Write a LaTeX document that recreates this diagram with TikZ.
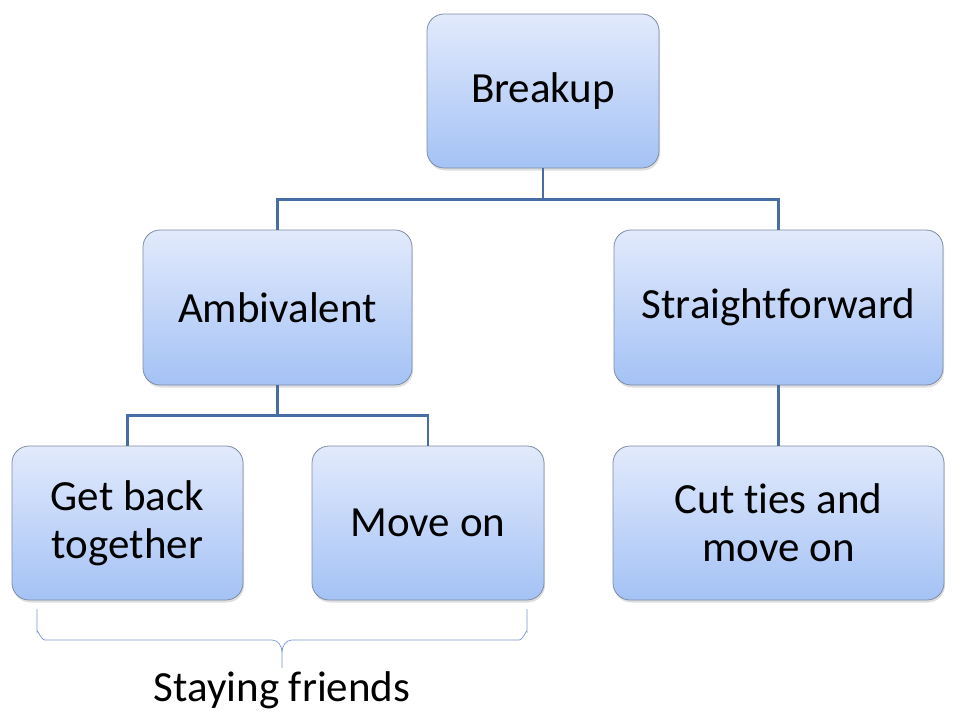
\documentclass[tikz,border=0pt]{standalone}
\usepackage{fontspec}
\setmainfont{Carlito}[Ligatures=NoCommon]
\usetikzlibrary{shadows}
\definecolor{boxtop}{RGB}{226,234,252}
\definecolor{boxbot}{RGB}{164,194,245}
\definecolor{boxline}{RGB}{125,140,165}
\definecolor{conn}{RGB}{70,110,165}
\definecolor{brace}{RGB}{120,150,205}
\begin{document}
\begin{tikzpicture}[x=1pt,y=-1pt,
  box/.style={draw=boxline, line width=0.8pt, rounded corners=17pt,
    top color=boxtop, bottom color=boxbot, align=center,
    font=\fontsize{43}{48}\selectfont, inner sep=0pt,
    drop shadow={opacity=0.25, shadow xshift=1pt, shadow yshift=-2.5pt}},
  conn/.style={draw=conn, line width=2.8pt}]
\useasboundingbox (0,0) rectangle (960,720);
\node[box, minimum width=232pt, minimum height=154pt] (b) at (543,91) {Breakup};
\node[box, minimum width=269pt, minimum height=155pt] (a) at (277.5,307.5) {Ambivalent};
\node[box, minimum width=329pt, minimum height=155pt] (s) at (778.5,307.5) {Straightforward};
\node[box, minimum width=231pt, minimum height=154pt] (g) at (127.5,523) {Get back\\together};
\node[box, minimum width=232pt, minimum height=154pt] (m) at (428,523) {Move on};
\node[box, minimum width=331pt, minimum height=154pt] (c) at (778.5,523) {Cut ties and\\move on};
\draw[conn] (b.south) -- ++(0,31) -| (a.north);
\draw[conn] (b.south) ++(0,31) -| (s.north);
\draw[conn] (a.south) -- ++(0,30) -| (g.north);
\draw[conn] (a.south) ++(0,30) -| (m.north);
\draw[conn] (s.south) -- (c.north);
\draw[brace, line width=0.7pt] (37,609) -- (37,632) to[out=90,in=180] (45,640)
  -- (272,640) to[out=0,in=90] (282,652) -- (282,668);
\draw[brace, line width=0.7pt] (527,609) -- (527,632) to[out=90,in=0] (519,640)
  -- (292,640) to[out=180,in=90] (282,652);
\node[font=\fontsize{43}{48}\selectfont] (sf) at (282,690) {Staying friends};
\end{tikzpicture}
\end{document}
